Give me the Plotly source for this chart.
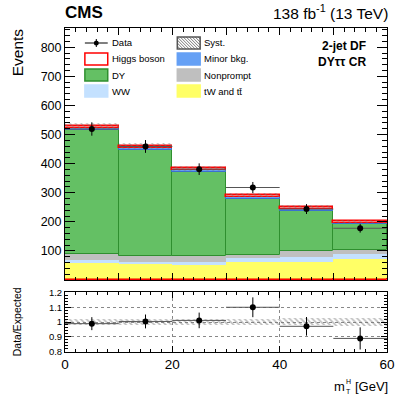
import numpy as np
import plotly.graph_objects as go

# bins in m_T^H [GeV]
bin_lo = [0, 10, 20, 30, 40, 50]
bin_w = 10

# stacked backgrounds, bottom to top (events per bin)
low_higgs = [6, 6, 6, 6, 6, 6]
tw_tt = [52, 48, 46, 56, 55, 68]
ww = [10, 9, 11, 14, 17, 17]
nonprompt = [23, 19, 21, 10, 21, 11]
dy = [424, 366, 286, 192, 139, 90]
minor_bkg = [7, 6, 7, 7, 7, 5]
higgs = [8, 7, 7, 7, 7, 5]
syst = [10, 9, 8, 6, 6, 5]

data = [519, 459, 381, 318, 244, 178]
data_err = [23, 22, 20, 19, 17, 15]

ratio = [0.989, 1.004, 1.011, 1.10, 0.971, 0.889]
ratio_err = [0.044, 0.047, 0.053, 0.067, 0.063, 0.075]

y_ticks = [100, 200, 300, 400, 500, 600, 700, 800]
r_ticks = [0.8, 0.9, 1.0, 1.1, 1.2]
r_labels = ["0.8", "0.9", "1", "1.1", "1.2"]

COL = {
    "low": "#f47a28",
    "tt": "#ffff66",
    "ww": "#c4e1ff",
    "np": "#bfbfbf",
    "dy": "#64c064",
    "minor": "#65a0f5",
}

FONT = "Liberation Sans, Arial, Helvetica, sans-serif"
W, H = 407, 395
L, R, T, B = 65, 389, 28, 352


def px(x):
    return (x - L) / (R - L)


def py(y):
    return (B - y) / (B - T)


centers = np.array(bin_lo) + bin_w / 2
half = np.full(len(centers), bin_w / 2)

fig = go.Figure()

# stacked histogram built with explicit bases
layers = [
    (low_higgs, COL["low"], "red", 1),
    (tw_tt, COL["tt"], COL["tt"], 0),
    (ww, COL["ww"], COL["ww"], 0),
    (nonprompt, COL["np"], COL["np"], 0),
    (dy, COL["dy"], "#2f8f2f", 1),
    (minor_bkg, COL["minor"], "#3a70d0", 1),
    (higgs, "#fff0f0", "red", 1.5),
]
base = np.zeros(len(centers))
for vals, fill, edge, lw in layers:
    fig.add_trace(go.Bar(
        x=centers, y=vals, base=base.copy(), width=bin_w,
        marker=dict(color=fill, line=dict(color=edge, width=lw)),
        xaxis="x", yaxis="y", showlegend=False, hoverinfo="skip",
    ))
    base += np.array(vals)
total = base

# systematic band
fig.add_trace(go.Bar(
    x=centers, y=2 * np.array(syst), base=total - np.array(syst), width=bin_w,
    marker=dict(color="rgba(0,0,0,0)", line=dict(width=0),
                pattern=dict(shape="\\", fgcolor="#777", bgcolor="rgba(0,0,0,0)",
                             size=4, solidity=0.3)),
    xaxis="x", yaxis="y", showlegend=False, hoverinfo="skip",
))

fig.add_trace(go.Scatter(
    x=centers, y=data, mode="markers",
    marker=dict(color="black", size=6),
    error_y=dict(type="data", array=data_err, color="black", thickness=1, width=0),
    error_x=dict(type="data", array=half, color="#555", thickness=1, width=0),
    xaxis="x", yaxis="y", showlegend=False,
))

# ratio panel
rel = np.array(syst) / total
fig.add_trace(go.Bar(
    x=centers, y=2 * rel, base=1 - rel, width=bin_w,
    marker=dict(color="rgba(0,0,0,0)", line=dict(width=0),
                pattern=dict(shape="\\", fgcolor="#777", bgcolor="rgba(0,0,0,0)",
                             size=4, solidity=0.4)),
    xaxis="x2", yaxis="y2", showlegend=False, hoverinfo="skip",
))
fig.add_trace(go.Scatter(
    x=centers, y=ratio, mode="markers",
    marker=dict(color="black", size=6),
    error_y=dict(type="data", array=ratio_err, color="black", thickness=1, width=0),
    error_x=dict(type="data", array=half, color="#555", thickness=1, width=0),
    xaxis="x2", yaxis="y2", showlegend=False,
))

# hand-drawn two-column legend
shapes = []
annots = []
rows = [43, 59, 75, 91]
col_x = [(85, 108), (178, 201)]
entries = [
    (0, 0, "Data", "data"),
    (0, 1, "Higgs boson", ("white", "red")),
    (0, 2, "DY", (COL["dy"], "#2f8f2f")),
    (0, 3, "WW", (COL["ww"], COL["ww"])),
    (1, 0, "Syst.", "syst"),
    (1, 1, "Minor bkg.", (COL["minor"], COL["minor"])),
    (1, 2, "Nonprompt", (COL["np"], COL["np"])),
    (1, 3, "tW and tt\u0304", (COL["tt"], COL["tt"])),
]
for c, r, label, style in entries:
    x0, x1 = col_x[c]
    yc = rows[r]
    y0, y1 = yc - 6, yc + 6
    if style == "data":
        shapes.append(dict(type="line", xref="paper", yref="paper",
                           x0=px(x0), x1=px(x1), y0=py(yc), y1=py(yc),
                           line=dict(color="black", width=1)))
        shapes.append(dict(type="line", xref="paper", yref="paper",
                           x0=px((x0 + x1) / 2), x1=px((x0 + x1) / 2),
                           y0=py(yc - 4), y1=py(yc + 4),
                           line=dict(color="black", width=1)))
        shapes.append(dict(type="circle", xref="paper", yref="paper",
                           x0=px((x0 + x1) / 2 - 2.5), x1=px((x0 + x1) / 2 + 2.5),
                           y0=py(yc - 2.5), y1=py(yc + 2.5),
                           fillcolor="black", line=dict(width=0)))
    elif style == "syst":
        s = 3.0
        cc = x0 - (y1 - y0)
        while cc < x1:
            ya = max(y0, x0 - cc + y0)
            yb = min(y1, x1 - cc + y0)
            if yb > ya:
                shapes.append(dict(type="line", xref="paper", yref="paper",
                                   x0=px(cc + ya - y0), x1=px(cc + yb - y0),
                                   y0=py(ya), y1=py(yb),
                                   line=dict(color="#777", width=1)))
            cc += s
        shapes.append(dict(type="rect", xref="paper", yref="paper",
                           x0=px(x0), x1=px(x1), y0=py(y1), y1=py(y0),
                           line=dict(color="#555", width=1.5)))
    else:
        fill, edge = style
        shapes.append(dict(type="rect", xref="paper", yref="paper",
                           x0=px(x0), x1=px(x1), y0=py(y1), y1=py(y0),
                           fillcolor=fill, line=dict(color=edge, width=1.5)))
    annots.append(dict(text=label, xref="paper", yref="paper",
                       x=px(x1 + 2), y=py(yc), xanchor="left", yanchor="middle",
                       showarrow=False, font=dict(size=9.5, color="black")))

annots += [
    dict(text="<b>CMS</b>", xref="paper", yref="paper", x=px(63), y=py(12),
         xanchor="left", yanchor="middle", showarrow=False, font=dict(size=17)),
    dict(text="138 fb<sup>-1</sup> (13 TeV)", xref="paper", yref="paper",
         x=px(392), y=py(12), xanchor="right", yanchor="middle", showarrow=False,
         font=dict(size=15.5)),
    dict(text="<b>2-jet DF</b>", xref="paper", yref="paper", x=px(370), y=py(46),
         xanchor="right", yanchor="middle", showarrow=False, font=dict(size=12)),
    dict(text="<b>DY\u03c4\u03c4 CR</b>", xref="paper", yref="paper", x=px(370), y=py(62),
         xanchor="right", yanchor="middle", showarrow=False, font=dict(size=12)),
    dict(text="Events", xref="paper", yref="paper", x=px(18), y=py(26),
         xanchor="center", yanchor="top", textangle=-90, showarrow=False,
         font=dict(size=15.5)),
    dict(text="Data/Expected", xref="paper", yref="paper", x=px(17), y=py(322),
         xanchor="center", yanchor="middle", textangle=-90, showarrow=False,
         font=dict(size=10.5)),
    # axis title m_T^H with stacked sub/superscript
    dict(text="m", xref="paper", yref="paper", x=px(349), y=py(386),
         xanchor="right", yanchor="middle", showarrow=False, font=dict(size=13)),
    dict(text="H", xref="paper", yref="paper", x=px(346), y=py(381),
         xanchor="left", yanchor="middle", showarrow=False, font=dict(size=7)),
    dict(text="T", xref="paper", yref="paper", x=px(346), y=py(391),
         xanchor="left", yanchor="middle", showarrow=False, font=dict(size=7)),
    dict(text="[GeV]", xref="paper", yref="paper", x=px(392), y=py(386),
         xanchor="right", yanchor="middle", showarrow=False, font=dict(size=13)),
]

axis_common = dict(showline=True, linecolor="black", linewidth=1, mirror="allticks",
                   ticks="inside", tickcolor="black", zeroline=False)

fig.update_layout(
    width=W, height=H,
    margin=dict(l=L, r=W - R, t=T, b=H - B, pad=0),
    paper_bgcolor="white", plot_bgcolor="white",
    font=dict(family=FONT, color="black", size=12),
    barmode="overlay", bargap=0,
    showlegend=False,
    xaxis=dict(**axis_common, domain=[0, 1], range=[0, 60], anchor="y",
               dtick=10, ticklen=7, showticklabels=False, showgrid=False,
               minor=dict(dtick=2, ticks="inside", ticklen=3.5, tickcolor="black")),
    yaxis=dict(**axis_common, domain=[0.222, 1], range=[0, 866], anchor="x",
               tickvals=y_ticks, ticklen=10, showgrid=False,
               tickfont=dict(size=12.5),
               minor=dict(dtick=20, ticks="inside", ticklen=5, tickcolor="black")),
    xaxis2=dict(**axis_common, domain=[0, 1], range=[0, 60], anchor="y2",
                dtick=20, ticklen=6, showgrid=True, gridcolor="#888",
                griddash="dot", gridwidth=1, tickfont=dict(size=13.5),
                minor=dict(dtick=2, ticks="inside", ticklen=3, tickcolor="black",
                           showgrid=False)),
    yaxis2=dict(**axis_common, domain=[0, 0.185], range=[0.797, 1.203], anchor="x2",
                tickvals=r_ticks, ticktext=r_labels, ticklen=6, showgrid=True,
                gridcolor="#888", griddash="dot", gridwidth=1,
                tickfont=dict(size=9.5),
                minor=dict(dtick=0.02, ticks="inside", ticklen=3, tickcolor="black",
                           showgrid=False)),
    shapes=shapes,
    annotations=annots,
)

# drop the browser's default body margin so the page matches the window
fig.write_html("out.html", config={"displayModeBar": False},
               post_script="document.body.style.margin='0';")
